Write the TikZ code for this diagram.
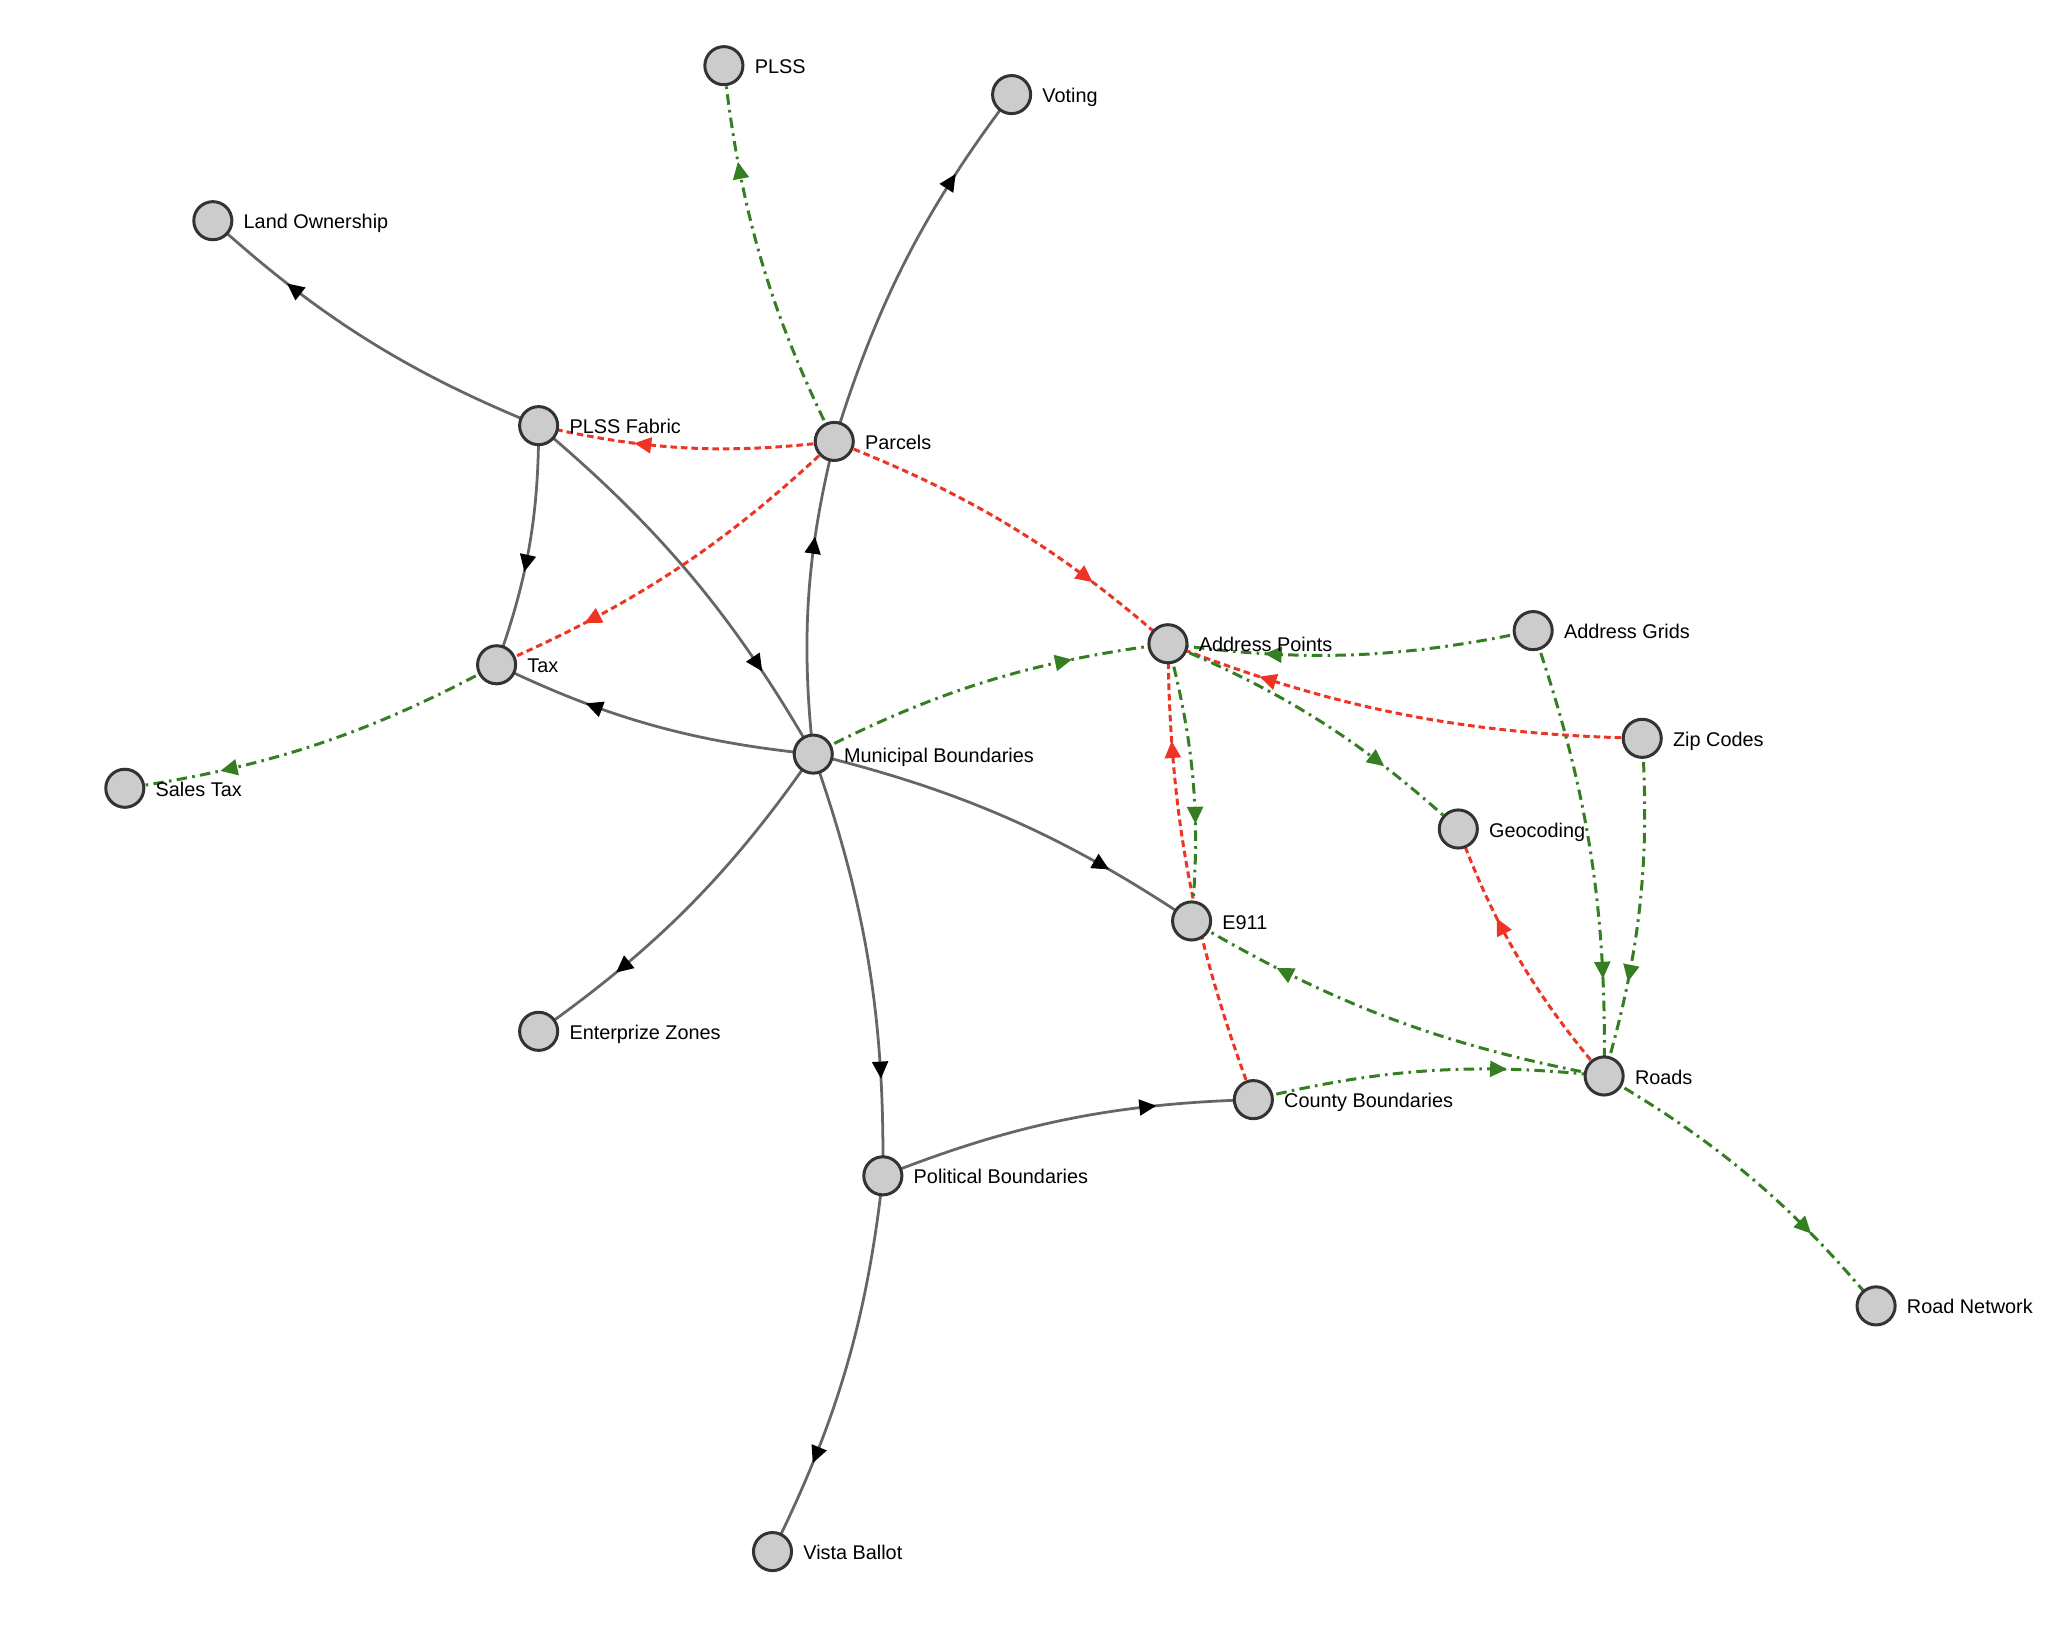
\documentclass[tikz,border=0pt]{standalone}
\usepackage{fontspec}
\setmainfont{Liberation Sans}
\usetikzlibrary{arrows.meta,decorations.markings,backgrounds}

\definecolor{nodefill}{HTML}{CCCCCC}
\definecolor{nodeline}{HTML}{333333}
\definecolor{linkgray}{HTML}{666666}
\definecolor{linkred}{HTML}{EE3424}
\definecolor{linkgreen}{HTML}{357E22}

\tikzset{
  vertex/.style={circle,draw=nodeline,fill=nodefill,line width=1.3pt,
    minimum size=0.58cm,inner sep=0pt},
  lbl/.style={font=\fontsize{8.6}{10}\selectfont,inner sep=0pt,
    text height=0.75em,text depth=0.05em,label distance=0.15cm},
  link/.style={postaction={decorate,decoration={markings,
    mark=at position -1.48cm with {\arrow{Triangle[length=0.26cm,width=0.24cm,color=#1]}}}}},
  graylink/.style={link=black,draw=linkgray,line width=1.2pt},
  redlink/.style={link=linkred,draw=linkred,line width=1.3pt,
    dash pattern=on 0.1cm off 0.06cm},
  greenlink/.style={link=linkgreen,draw=linkgreen,line width=1.3pt,
    dash pattern=on 0.16cm off 0.08cm on 0.04cm off 0.08cm},
  arc/.style={bend left=10,looseness=0.95}
}

\begin{document}
\begin{tikzpicture}[x=0.02cm,y=0.02cm]
  \useasboundingbox (0,0) rectangle (1568,-1253);
  % layers
  \foreach \n/\x/\y/\t in {plss/551/50/PLSS, voting/770/72/Voting,
      landown/162/168/Land Ownership, fabric/410/324/PLSS Fabric,
      parcels/635/336/Parcels, addrpts/889/490/Address Points,
      grids/1167/480/Address Grids, zip/1250/562/Zip Codes,
      tax/378/506/Tax, salestax/95/600/Sales Tax,
      muni/619/574/Municipal Boundaries, geo/1110/631/Geocoding,
      e911/907/701/E911, enterprize/410/785/Enterprize Zones,
      roads/1221/819/Roads, county/954/837/County Boundaries,
      political/672/895/Political Boundaries, roadnet/1428/994/Road Network,
      vista/588/1181/Vista Ballot}
    \node[vertex,label={[lbl]right:\t}] (\n) at (\x,-\y) {};
  \begin{scope}[on background layer]
    % solid links
    \foreach \a/\b in {fabric/landown, fabric/tax, fabric/muni, parcels/voting,
        muni/parcels, muni/tax, muni/e911, muni/enterprize, muni/political,
        political/county, political/vista}
      \draw[graylink] (\a.center) to[arc] (\b.center);
    % red links
    \foreach \a/\b in {parcels/fabric, parcels/tax, parcels/addrpts,
        zip/addrpts, county/addrpts, roads/geo}
      \draw[redlink] (\a.center) to[arc] (\b.center);
    % green links
    \foreach \a/\b in {parcels/plss, tax/salestax, muni/addrpts, grids/addrpts,
        grids/roads, zip/roads, addrpts/geo, addrpts/e911, roads/e911,
        county/roads, roads/roadnet}
      \draw[greenlink] (\a.center) to[arc] (\b.center);
  \end{scope}
\end{tikzpicture}
\end{document}
